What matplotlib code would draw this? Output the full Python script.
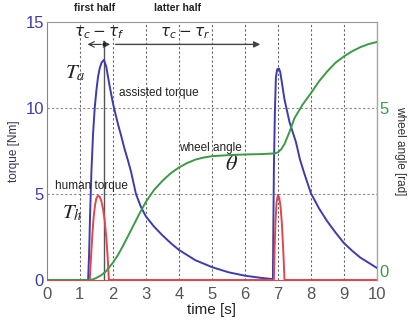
import numpy as np
import matplotlib
matplotlib.use("Agg")
from matplotlib import pyplot as plt

plt.rcParams['font.family'] = ['Liberation Sans', 'DejaVu Sans']

# assisted torque [Nm]
t_assist = [0, 1.25, 1.28, 1.31, 1.35, 1.4, 1.45, 1.5, 1.55, 1.6, 1.66, 1.73, 1.8, 1.9, 2.0,
            2.06, 2.15, 2.25, 2.35, 2.45, 2.55, 2.7, 2.85, 3.0, 3.25, 3.5, 3.75, 4.0, 4.5,
            5.0, 5.5, 6.0, 6.5, 6.85, 6.86, 6.88, 6.91, 6.94, 6.98, 7.03, 7.07, 7.12, 7.2,
            7.35, 7.55, 7.67, 7.8, 8.0, 8.25, 8.5, 8.75, 9.0, 9.25, 9.5, 9.75, 10.0]
assist = [0, 0, 1.5, 3.8, 6.3, 8.5, 10.0, 11.0, 11.8, 12.3, 12.65, 12.8, 12.4, 11.3, 10.3,
          9.8, 9.1, 8.4, 7.65, 7.0, 6.3, 5.0, 4.25, 3.7, 3.1, 2.6, 2.15, 1.75, 1.15,
          0.75, 0.45, 0.25, 0.12, 0.05, 2.5, 6.6, 9.8, 11.8, 12.25, 12.3, 12.1, 11.5, 10.5,
          9.2, 8.0, 7.0, 6.2, 5.05, 4.15, 3.4, 2.75, 2.15, 1.7, 1.3, 1.0, 0.7]

# human torque [Nm]
t_human = [0, 1.3, 1.34, 1.38, 1.42, 1.46, 1.5, 1.55, 1.6, 1.65, 1.7, 1.75, 1.8, 1.84, 1.88,
           6.88, 6.9, 6.93, 6.96, 7.0, 7.04, 7.08, 7.12, 7.15, 7.18, 7.2, 10.0]
human = [0, 0, 1.4, 2.7, 3.7, 4.35, 4.75, 4.9, 4.85, 4.6, 4.15, 3.5, 2.5, 1.4, 0,
         0, 1.8, 3.5, 4.5, 4.95, 4.8, 4.3, 3.3, 2.2, 1.0, 0, 0]

# wheel angle [rad]
t_angle = [0, 1.3, 1.4, 1.5, 1.65, 1.8, 2.0, 2.15, 2.3, 2.45, 2.6, 2.8, 3.0, 3.25, 3.5, 3.75,
           4.0, 4.25, 4.5, 4.75, 5.0, 5.5, 6.0, 6.5, 6.9, 7.0, 7.1, 7.2, 7.35, 7.5, 7.75,
           8.0, 8.25, 8.5, 8.75, 9.0, 9.25, 9.5, 9.75, 10.0]
angle = [0, 0, 0.02, 0.06, 0.14, 0.26, 0.5, 0.72, 0.98, 1.26, 1.54, 1.92, 2.27, 2.62, 2.88,
         3.1, 3.27, 3.4, 3.5, 3.56, 3.6, 3.63, 3.65, 3.66, 3.68, 3.71, 3.8, 3.95, 4.3, 4.7,
         5.1, 5.43, 5.78, 6.07, 6.32, 6.5, 6.65, 6.77, 6.86, 6.92]

blue = '#3c3cae'
red = '#e0474c'
green = '#3c9a45'

fig = plt.figure(figsize=(4.11, 3.29), dpi=100)
ax = fig.add_axes([0.114, 0.149, 0.803, 0.784])
ax2 = ax.twinx()

for x in range(1, 10):
    ax.axvline(x, color='#666666', lw=0.8, ls=(0, (2, 2)), zorder=0)
for y in [5, 10]:
    ax.axhline(y, color='#888888', lw=0.8, ls=(0, (2, 2)), zorder=0)
ax.plot([1.73, 1.73], [0, 13.9], color='#555555', lw=1.0, zorder=1)

ax.plot(t_assist, assist, color=blue, lw=1.4, zorder=3)
ax.plot(t_human, human, color=red, lw=1.4, zorder=3)
ax2.plot(t_angle, angle, color=green, lw=1.4)

ax.set_xlim(0, 10)
ax.set_ylim(0, 15)
ax2.set_ylim(0, 7.5)
ax.set_xticks(range(0, 11))
ax.set_yticks([0, 5, 10, 15])
ax2.set_yticks([0, 5])
ax.tick_params(axis='x', colors='#555555', labelsize=12, length=0, pad=5)
ax.tick_params(axis='y', colors=blue, labelsize=12, length=0, pad=2)
ax2.tick_params(axis='y', colors=green, labelsize=12, length=0, pad=2)
ax2.get_yticklabels()[0].set_va('bottom')
ax.spines['left'].set_color('#8080c0')
ax.spines['bottom'].set_color(red)
ax.spines['top'].set_color('#999999')
ax2.spines['right'].set_color('#90b890')
for s in ['left', 'bottom', 'top']:
    ax2.spines[s].set_visible(False)

ax.set_xlabel('time [s]', fontsize=11, color='#222222', labelpad=1)
ax.set_ylabel('torque [Nm]', fontsize=8.5, color='#333355', labelpad=4)
ax2.set_ylabel('wheel angle [rad]', fontsize=8.5, color='#333333', rotation=-90, labelpad=12)

# annotations
ax.text(1.45, 15.8, 'first half', fontsize=7.5, fontweight='bold', ha='center', va='center',
        color='#222222', clip_on=False)
ax.text(3.95, 15.8, 'latter half', fontsize=7.5, fontweight='bold', ha='center', va='center',
        color='#222222', clip_on=False)
ax.text(1.6, 14.35, r'$\tau_c - \tau_f$', fontsize=11, ha='center', va='center', color='#222222')
ax.text(4.2, 14.35, r'$\tau_c - \tau_r$', fontsize=11, ha='center', va='center', color='#222222')
ax.annotate('', xy=(1.15, 13.7), xytext=(1.73, 13.7),
            arrowprops=dict(arrowstyle='->', color='#333333', lw=0.8))
ax.annotate('', xy=(2.0, 13.7), xytext=(1.73, 13.7),
            arrowprops=dict(arrowstyle='->', color='#333333', lw=0.8))
ax.plot([1.73], [13.7], 'o', color='#222222', ms=2)
ax.annotate('', xy=(6.55, 13.7), xytext=(2.0, 13.7),
            arrowprops=dict(arrowstyle='-|>', color='#444444', lw=1.0, mutation_scale=9))

ax.text(0.55, 12.0, r'$T_a$', fontsize=15, ha='left', va='center', color='#222222',
        math_fontfamily='stix')
ax.text(0.45, 3.9, r'$T_h$', fontsize=15, ha='left', va='center', color='#222222',
        math_fontfamily='stix')
ax.text(5.6, 6.7, r'$\theta$', fontsize=16, ha='center', va='center', color='#222222',
        math_fontfamily='stix')
ax.text(2.2, 10.9, 'assisted torque', fontsize=8.5, ha='left', va='center', color='#222222')
ax.text(4.0, 7.65, 'wheel angle', fontsize=8.5, ha='left', va='center', color='#222222')
ax.text(0.24, 5.45, 'human torque', fontsize=8.5, ha='left', va='center', color='#222222')

fig.savefig('out.png', dpi=100)
